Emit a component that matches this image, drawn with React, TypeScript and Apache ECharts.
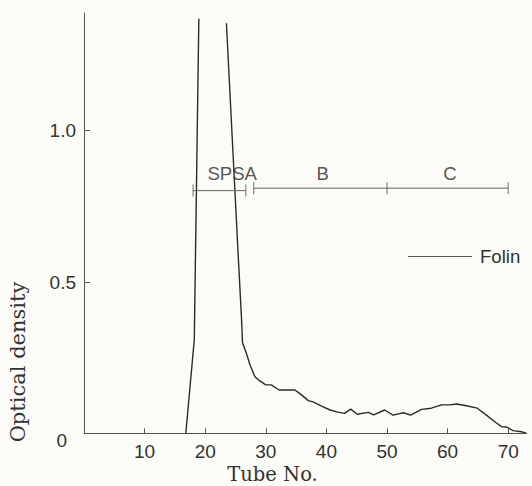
import React, { useEffect, useRef } from "react";
import * as echarts from "echarts";

// Folin optical density vs tube number (null = off-scale peak, line broken)
const folinTube = [
  16.8, 18.2, 18.95, 21, 23.5, 25.4, 26.0, 26.15, 26.8, 27.4, 28.2, 29.0, 30.0,
  30.9, 32.2, 34.8, 35.9, 37.0, 37.8, 39.2, 40.6, 41.7, 43.0, 44.0, 45.1, 46.9,
  47.8, 49.6, 51.0, 52.7, 53.9, 55.7, 57.3, 59.0, 60.4, 61.5, 63.1, 64.9, 66.4,
  68.0, 68.9, 69.8, 70.8, 72.2, 73.0,
];
const folinOD: (number | null)[] = [
  0, 0.31, 1.37, null, 1.355, 0.605, 0.375, 0.3, 0.264, 0.226, 0.187, 0.173, 0.16,
  0.16, 0.143, 0.143, 0.127, 0.108, 0.104, 0.09, 0.077, 0.071, 0.066, 0.08, 0.063,
  0.069, 0.061, 0.077, 0.06, 0.068, 0.06, 0.079, 0.083, 0.094, 0.094, 0.097, 0.091,
  0.083, 0.06, 0.035, 0.022, 0.02, 0.009, 0.005, 0,
];

const xTicks = [10, 20, 30, 40, 50, 60, 70];
const yLabels = [0, 0.5, 1.0];
const yTicks = [0.5, 1.0];

// fraction brackets
const barLeftTubes = [18, 26.7];
const barLeftOD = 0.802;
const barRightTubes = [28, 50, 70];
const barRightOD = 0.81;
const fractionNames = ["SPSA", "B", "C"];
const fractionTubes = [24.45, 39.4, 60.4];
const fractionOD = 0.86;

const SANS = '"Liberation Sans", Arial, sans-serif';
const SERIF = '"DejaVu Serif", "Liberation Serif", serif';

export default function App() {
  const ref = useRef<HTMLDivElement>(null);
  useEffect(() => {
    if (!ref.current) return;
    const chart = echarts.init(ref.current, undefined, { renderer: "svg" });
    const folinData = folinTube.map((t, i) => [t, folinOD[i] === null ? "-" : folinOD[i]]);
    const barData: any[] = [
      ...barLeftTubes.map((t) => [t, barLeftOD]),
      [27.4, "-"],
      [barRightTubes[0], barRightOD],
      [barRightTubes[barRightTubes.length - 1], barRightOD],
    ];
    const tickData = [
      ...barLeftTubes.map((t) => [t, barLeftOD]),
      ...barRightTubes.map((t) => [t, barRightOD]),
    ];
    const labelData = fractionNames.map((n, i) => ({ name: n, value: [fractionTubes[i], fractionOD] }));
    const axisColor = "#555";
    chart.setOption({
      animation: false,
      backgroundColor: "#fbfbf8",
      grid: { left: 84, top: 13, width: 442.4, height: 420.3 },
      xAxis: {
        type: "value",
        min: 0,
        max: 73,
        interval: 10,
        splitLine: { show: false },
        axisLine: { lineStyle: { color: axisColor, width: 1 } },
        axisTick: { inside: true, length: 5, lineStyle: { color: axisColor }, customValues: xTicks },
        axisLabel: {
          customValues: xTicks,
          margin: 9,
          fontSize: 19,
          color: "#333",
          fontFamily: SANS,
        },
      },
      yAxis: {
        type: "value",
        min: 0,
        max: 1.389,
        interval: 0.5,
        splitLine: { show: false },
        axisLine: { show: true, lineStyle: { color: axisColor, width: 1 } },
        axisTick: { show: true, inside: true, length: 6, lineStyle: { color: axisColor }, customValues: yTicks },
        axisLabel: {
          customValues: yLabels,
          margin: 8,
          fontSize: 19,
          color: "#333",
          fontFamily: SANS,
          formatter: (v: number) => (v === 0 ? "{z|0}" : v.toFixed(1)),
          rich: {
            z: { fontSize: 19, color: "#333", fontFamily: SANS, padding: [14, 9, 0, 0] },
          },
        },
      },
      legend: {
        data: [{ name: "Folin", icon: "rect", itemStyle: { color: "#555" } }],
        left: 408,
        top: 247,
        padding: 0,
        itemWidth: 64,
        itemHeight: 1.2,
        textStyle: { fontSize: 18.6, color: "#333", fontFamily: SANS, padding: [0, 0, 0, 3] },
      },
      graphic: [
        {
          type: "text",
          x: 17.5,
          y: 362,
          rotation: Math.PI / 2,
          style: {
            text: "Optical density",
            fontSize: 21,
            fontFamily: SERIF,
            fill: "#333",
            align: "center",
            verticalAlign: "middle",
          },
        },
        {
          type: "text",
          x: 272.5,
          y: 474.5,
          style: {
            text: "Tube No.",
            fontSize: 19.5,
            fontFamily: SERIF,
            fill: "#333",
            align: "center",
            verticalAlign: "middle",
          },
        },
      ],
      series: [
        {
          name: "Folin",
          type: "line",
          data: folinData,
          symbol: "none",
          connectNulls: false,
          lineStyle: { color: "#2b2b2b", width: 1.4 },
          itemStyle: { color: "#2b2b2b" },
        },
        {
          name: "bars",
          type: "line",
          data: barData,
          symbol: "none",
          connectNulls: false,
          silent: true,
          lineStyle: { color: "#666", width: 1 },
        },
        {
          name: "barTicks",
          type: "scatter",
          data: tickData,
          symbol: "rect",
          symbolSize: [1.2, 12],
          silent: true,
          itemStyle: { color: "#666" },
        },
        {
          name: "fractions",
          type: "scatter",
          data: labelData,
          symbolSize: 1,
          silent: true,
          itemStyle: { color: "transparent" },
          label: {
            show: true,
            position: "inside",
            formatter: (p: any) => p.name,
            fontSize: 18.6,
            color: "#2a2a2a",
            fontFamily: SANS,
          },
        },
      ],
    });
    return () => chart.dispose();
  }, []);
  return <div ref={ref} style={{ position: "fixed", left: 0, top: 0, width: 532, height: 486 }} />;
}
